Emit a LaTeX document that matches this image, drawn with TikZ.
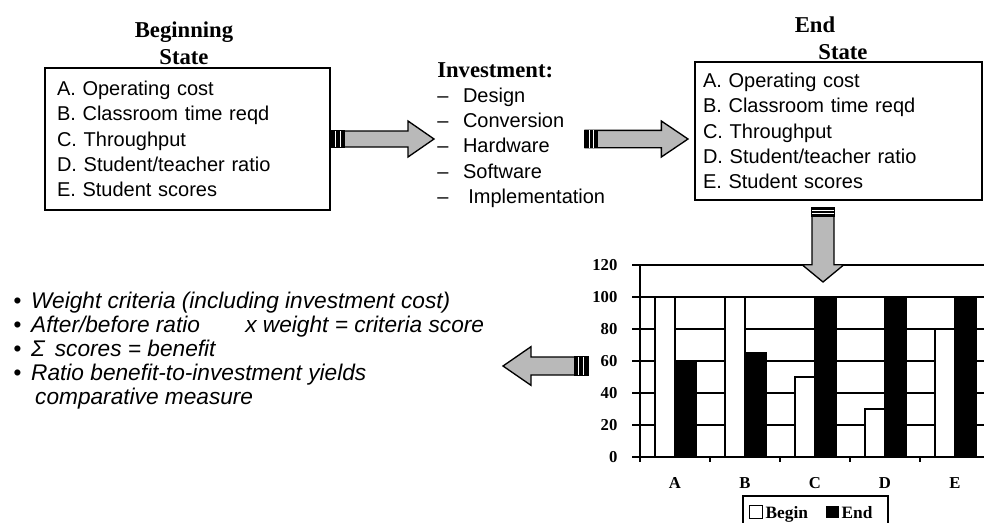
\documentclass[tikz,border=0pt]{standalone}
\usepackage{fontspec}
\setmainfont{Liberation Serif}
\setsansfont{Liberation Sans}
\usetikzlibrary{calc}

% block arrow: tail, tip, shaft half width, head half width, head length, tail block
\newcommand{\fatarrow}[6]{%
  \coordinate (fab) at ($(#2)!#5!(#1)$);
  \coordinate (fat) at ($(#1)!#6!(#2)$);
  \filldraw[arrowbody] ($(#1)!#3!90:(#2)$) -- ($(fab)!#3!90:(#2)$) -- ($(fab)!#4!90:(#2)$) -- (#2)
    -- ($(fab)!#4!-90:(#2)$) -- ($(fab)!#3!-90:(#2)$) -- ($(#1)!#3!-90:(#2)$) -- cycle;
  \filldraw[line width=1pt] ($(#1)!#3!90:(#2)$) -- ($(fat)!#3!90:(#2)$) -- ($(fat)!#3!-90:(#2)$) -- ($(#1)!#3!-90:(#2)$) -- cycle;
  \foreach \f in {0.35,0.7} {
    \coordinate (fas) at ($(#1)!\f!(fat)$);
    \draw[white,line width=0.6pt] ($(fas)!#3!90:(#2)$) -- ($(fas)!#3!-90:(#2)$);
  }
}

\tikzset{
  statebox/.style={draw,line width=1pt,align=left,font=\sffamily\fontsize{15}{19}\selectfont},
  heading/.style={font=\bfseries\fontsize{17}{20.25}\selectfont,align=center,inner sep=0pt},
  arrowbody/.style={draw=black,line width=1pt,fill=gray!55,line join=miter},
  gridline/.style={line width=0.9pt},
  barlabel/.style={font=\bfseries\fontsize{12.5}{14}\selectfont,inner sep=1pt},
  legendtext/.style={font=\bfseries\fontsize{13}{15}\selectfont,inner sep=1pt,anchor=base west},
}

\begin{document}
\begin{tikzpicture}[x=0.75pt,y=-0.75pt]
\useasboundingbox (0,0) rectangle (984,522);

% states and investment
\node[heading] (begtitle) at (184,43) {Beginning\\State};
\node[statebox,minimum width=213.75pt,minimum height=106.5pt,text width=195.75pt,inner xsep=9pt] (begbox) at (187.5,139)
  {A. Operating cost\\B. Classroom time reqd\\C. Throughput\\D. Student/teacher ratio\\E. Student scores};
\node[heading] (endtitle) at (815,25) {End};
\node[heading] (endstate) at (843,52) {State};
\node[statebox,minimum width=215.25pt,minimum height=103.5pt,text width=203.25pt,inner xsep=6pt] (endbox) at (838.5,131)
  {A. Operating cost\\B. Classroom time reqd\\C. Throughput\\D. Student/teacher ratio\\E. Student scores};
\node[heading,anchor=west] (invtitle) at (437,70) {Investment:};
\node[anchor=base west,inner sep=0pt,font=\sffamily\fontsize{15}{19}\selectfont] (invlist) at (437,102)
  {\begin{tabular}[t]{@{}l@{\hspace{11pt}}l@{}}
   -- & Design\\ -- & Conversion\\ -- & Hardware\\ -- & Software\\ -- & \hspace{4pt}Implementation
   \end{tabular}};

% bullets
\node[anchor=base west,inner sep=0pt,font=\sffamily\itshape\fontsize{17}{18}\selectfont] (bullets) at (13,308)
  {\begin{tabular}[t]{@{}l@{\hspace{7.5pt}}l@{}}
   \textbullet & Weight criteria (including investment cost)\\
   \textbullet & After/before ratio\hspace{34pt}x weight = criteria score\\
   \textbullet & Σ\, scores = benefit\\
   \textbullet & Ratio benefit-to-investment yields\\
   & \hspace{3pt}comparative measure
   \end{tabular}};

% chart
\begin{scope}[shift={(640,457)},yscale=-1.6]
\foreach \v in {0,20,...,120}
  \draw[gridline] (-8,\v) -- (344,\v);
\draw[gridline] (0,0) -- (0,120);
\foreach \t in {0,70,...,280}
  \draw[gridline] (\t,0) -- (\t,-3);
\foreach \v in {0,20,...,120}
  \node[barlabel,anchor=east] (ylab\v) at (-21,\v) {\v};
\foreach \b/\e/\c [count=\i from 0] in {100/60/A,100/65/B,50/100/C,30/100/D,80/100/E} {
  \draw[gridline,fill=white] (15+70*\i,0) rectangle (35+70*\i,\b);
  \draw[gridline,fill=black] (35+70*\i,0) rectangle (56+70*\i,\e);
  \node[barlabel] (xlab\c) at (35+70*\i,-16.5) {\c};
}
\end{scope}

% legend
\node[draw,line width=1pt,minimum width=108.75pt,minimum height=27pt] (legend) at (815.5,514) {};
\node[draw,line width=0.8pt,fill=white,minimum size=9.5pt,inner sep=0pt] (legbegin) at (756,512) {};
\node[legendtext] (legbegintxt) at (764,518) {Begin};
\node[fill=black,minimum size=9.5pt,inner sep=0pt] (legendbox) at (832.5,512) {};
\node[legendtext] (legendtxt) at (840,518) {End};

% arrows
\coordinate (a1tip) at (434,139);
\coordinate (a2tail) at (585,139);
\coordinate (a2tip) at (688,139);
\coordinate (a3tail) at (823,208);
\coordinate (a3tip) at (823,282);
\coordinate (a4tail) at (588,366);
\coordinate (a4tip) at (503,366);
\fatarrow{begbox.east}{a1tip}{6pt}{13.5pt}{19.5pt}{10.5pt}
\fatarrow{a2tail}{a2tip}{6.5pt}{13.5pt}{20pt}{9pt}
\fatarrow{a3tail}{a3tip}{8.25pt}{15.75pt}{13pt}{6pt}
\fatarrow{a4tail}{a4tip}{6.75pt}{14.5pt}{21pt}{10pt}
\end{tikzpicture}
\end{document}
